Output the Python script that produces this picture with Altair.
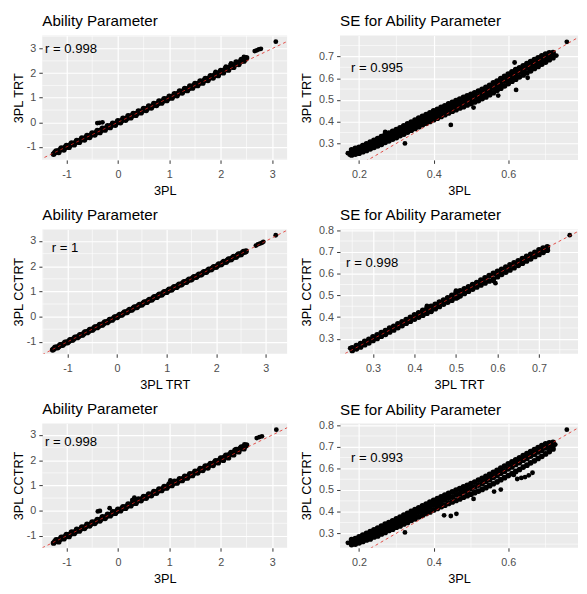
import altair as alt
import pandas as pd

FONT = "Liberation Sans"

# ---------------- texts ----------------
panel_titles = ["Ability Parameter", "SE for Ability Parameter",
                "Ability Parameter", "SE for Ability Parameter",
                "Ability Parameter", "SE for Ability Parameter"]
x_titles = ["3PL", "3PL", "3PL TRT", "3PL TRT", "3PL", "3PL"]
y_titles = ["3PL TRT", "3PL TRT", "3PL CCTRT", "3PL CCTRT", "3PL CCTRT", "3PL CCTRT"]
r_labels = ["r = 0.998", "r = 0.995", "r = 1", "r = 0.998", "r = 0.998", "r = 0.993"]
r_x = [-0.91, 0.248, -1.05, 0.298, -0.91, 0.248]
r_y = [3.0, 0.645, 2.73, 0.649, 2.73, 0.647]

# ---------------- ability panels: band points ----------------
ab_x = [-1.25, -1.2, -1.15, -1.1, -1.05, -1.0, -0.95, -0.9, -0.85, -0.8, -0.75, -0.7, -0.65, -0.6, -0.55,
        -0.5, -0.45, -0.4, -0.35, -0.3, -0.25, -0.2, -0.15, -0.1, -0.05, 0.0, 0.05, 0.1, 0.15, 0.2, 0.25,
        0.3, 0.35, 0.4, 0.45, 0.5, 0.55, 0.6, 0.65, 0.7, 0.75, 0.8, 0.85, 0.9, 0.95, 1.0, 1.05, 1.1, 1.15,
        1.2, 1.25, 1.3, 1.35, 1.4, 1.45, 1.5, 1.55, 1.6, 1.65, 1.7, 1.75, 1.8, 1.85, 1.9, 1.95, 2.0, 2.05,
        2.1, 2.15, 2.2, 2.25, 2.3, 2.35, 2.4, 2.45, 2.5]
ab_fx = [-1.225, -1.175, -1.125, -1.075, -1.025, -0.975, -0.925, -0.875, -0.825, -0.775, -0.725, -0.675,
         -0.625, -0.575, -0.525, -0.475, -0.425, -0.375, -0.325, -0.275, -0.225, -0.175, -0.125, -0.075,
         -0.025, 0.025, 0.075, 0.125, 0.175, 0.225, 0.275, 0.325, 0.375, 0.425, 0.475, 0.525, 0.575, 0.625,
         0.675, 0.725, 0.775, 0.825, 0.875, 0.925, 0.975, 1.025, 1.075, 1.125, 1.175, 1.225, 1.275, 1.325,
         1.375, 1.425, 1.475, 1.525, 1.575, 1.625, 1.675, 1.725, 1.775, 1.825, 1.875, 1.925, 1.975, 2.025,
         2.075, 2.125, 2.175, 2.225, 2.275, 2.325, 2.375, 2.425, 2.475]

# panel A: 3PL vs 3PL TRT
a_y = [-1.29, -1.17, -1.22, -1.05, -1.12, -0.95, -1.01, -0.84, -0.91, -0.74, -0.81, -0.64, -0.71, -0.54, -0.61,
       -0.44, -0.51, -0.34, -0.41, -0.24, -0.31, -0.14, -0.21, -0.04, -0.11, 0.06, -0.01, 0.16, 0.09, 0.26, 0.19,
       0.36, 0.29, 0.46, 0.39, 0.56, 0.49, 0.66, 0.59, 0.76, 0.69, 0.86, 0.79, 0.96, 0.89, 1.06, 0.99, 1.16, 1.09,
       1.27, 1.2, 1.37, 1.3, 1.47, 1.4, 1.58, 1.5, 1.68, 1.6, 1.78, 1.71, 1.89, 1.81, 1.99, 1.91, 2.1, 2.02,
       2.22, 2.13, 2.33, 2.24, 2.45, 2.36, 2.55, 2.5, 2.62]
a_fy = [-1.23, -1.18, -1.12, -1.08, -1.02, -0.98, -0.92, -0.88, -0.82, -0.78,
        -0.72, -0.68, -0.62, -0.58, -0.52, -0.48, -0.42, -0.38, -0.32, -0.28,
        -0.22, -0.18, -0.12, -0.08, -0.02, 0.03, 0.07, 0.13, 0.17, 0.23,
        0.27, 0.33, 0.37, 0.43, 0.47, 0.53, 0.57, 0.63, 0.67, 0.73,
        0.77, 0.83, 0.87, 0.93, 0.97, 1.03, 1.07, 1.13, 1.18, 1.23,
        1.28, 1.33, 1.38, 1.43, 1.49, 1.54, 1.59, 1.64, 1.7, 1.75,
        1.8, 1.86, 1.91, 1.96, 2.02, 2.07, 2.13, 2.18, 2.24, 2.29,
        2.35, 2.41, 2.46, 2.52, 2.57]
a_out_x = [-0.4, -0.36, -0.3, 1.9, 2.1, 2.2, 2.45, 2.66, 2.7, 2.74, 2.78, 3.07]
a_out_y = [-0.03, -0.02, 0.0, 2.05, 2.27, 2.4, 2.66, 2.9, 2.93, 2.97, 2.99, 3.28]

# panel C: 3PL TRT vs 3PL CCTRT
c_x = [-1.3, -1.25, -1.2, -1.15, -1.1, -1.05, -1.0, -0.95, -0.9, -0.85, -0.8, -0.75, -0.7, -0.65, -0.6, -0.55,
       -0.5, -0.45, -0.4, -0.35, -0.3, -0.25, -0.2, -0.15, -0.1, -0.05, 0.0, 0.05, 0.1, 0.15, 0.2, 0.25, 0.3,
       0.35, 0.4, 0.45, 0.5, 0.55, 0.6, 0.65, 0.7, 0.75, 0.8, 0.85, 0.9, 0.95, 1.0, 1.05, 1.1, 1.15, 1.2, 1.25,
       1.3, 1.35, 1.4, 1.45, 1.5, 1.55, 1.6, 1.65, 1.7, 1.75, 1.8, 1.85, 1.9, 1.95, 2.0, 2.05, 2.1, 2.15, 2.2,
       2.25, 2.3, 2.35, 2.4, 2.45, 2.5, 2.55, 2.6]
c_y = [-1.32, -1.22, -1.23, -1.12, -1.13, -1.02, -1.03, -0.92, -0.93, -0.82, -0.83, -0.72, -0.73, -0.62, -0.63, -0.52,
       -0.53, -0.42, -0.43, -0.32, -0.33, -0.22, -0.23, -0.12, -0.13, -0.02, -0.03, 0.08, 0.07, 0.18, 0.17, 0.28, 0.27,
       0.38, 0.37, 0.48, 0.47, 0.58, 0.57, 0.68, 0.67, 0.78, 0.77, 0.88, 0.87, 0.98, 0.97, 1.08, 1.07, 1.18, 1.17, 1.28,
       1.27, 1.38, 1.37, 1.48, 1.47, 1.58, 1.57, 1.68, 1.67, 1.78, 1.77, 1.88, 1.87, 1.98, 1.97, 2.08, 2.07, 2.18, 2.17,
       2.28, 2.27, 2.38, 2.37, 2.48, 2.47, 2.58, 2.6]
c_fx = [-1.275, -1.225, -1.175, -1.125, -1.075, -1.025, -0.975, -0.925, -0.875, -0.825,
        -0.775, -0.725, -0.675, -0.625, -0.575, -0.525, -0.475, -0.425, -0.375, -0.325,
        -0.275, -0.225, -0.175, -0.125, -0.075, -0.025, 0.025, 0.075, 0.125, 0.175,
        0.225, 0.275, 0.325, 0.375, 0.425, 0.475, 0.525, 0.575, 0.625, 0.675,
        0.725, 0.775, 0.825, 0.875, 0.925, 0.975, 1.025, 1.075, 1.125, 1.175,
        1.225, 1.275, 1.325, 1.375, 1.425, 1.475, 1.525, 1.575, 1.625, 1.675,
        1.725, 1.775, 1.825, 1.875, 1.925, 1.975, 2.025, 2.075, 2.125, 2.175,
        2.225, 2.275, 2.325, 2.375, 2.425, 2.475, 2.525, 2.575]
c_fy = [-1.28, -1.22, -1.18, -1.12, -1.08, -1.02, -0.98, -0.92, -0.88, -0.82,
        -0.78, -0.72, -0.68, -0.62, -0.58, -0.52, -0.48, -0.42, -0.38, -0.32,
        -0.28, -0.22, -0.18, -0.12, -0.08, -0.02, 0.03, 0.07, 0.13, 0.17,
        0.23, 0.27, 0.33, 0.37, 0.43, 0.47, 0.53, 0.57, 0.63, 0.67,
        0.73, 0.77, 0.83, 0.87, 0.93, 0.97, 1.03, 1.07, 1.13, 1.17,
        1.23, 1.27, 1.33, 1.37, 1.43, 1.47, 1.53, 1.57, 1.63, 1.67,
        1.73, 1.77, 1.83, 1.87, 1.93, 1.97, 2.03, 2.07, 2.13, 2.17,
        2.23, 2.27, 2.33, 2.37, 2.43, 2.47, 2.53, 2.57]
c_out_x = [2.8, 2.84, 2.88, 2.92, 2.95, 3.2]
c_out_y = [2.82, 2.87, 2.9, 2.93, 2.97, 3.23]

# panel E: 3PL vs 3PL CCTRT
e_y = [-1.28, -1.16, -1.23, -1.06, -1.11, -0.95, -1.02, -0.85, -0.9, -0.74, -0.8, -0.65, -0.7, -0.54, -0.6,
       -0.45, -0.5, -0.35, -0.4, -0.24, -0.3, -0.14, -0.2, -0.05, -0.1, 0.05, 0.0, 0.15, 0.1, 0.26, 0.2,
       0.36, 0.3, 0.46, 0.4, 0.56, 0.5, 0.66, 0.6, 0.76, 0.7, 0.86, 0.8, 0.96, 0.9, 1.06, 1.0, 1.16, 1.1,
       1.26, 1.2, 1.36, 1.3, 1.46, 1.4, 1.56, 1.5, 1.67, 1.6, 1.77, 1.7, 1.87, 1.8, 1.98, 1.9, 2.08, 2.0,
       2.19, 2.1, 2.3, 2.22, 2.42, 2.34, 2.52, 2.46, 2.6]
e_fy = [-1.22, -1.18, -1.13, -1.07, -1.03, -0.97, -0.93, -0.87, -0.83, -0.77,
        -0.73, -0.67, -0.63, -0.57, -0.53, -0.47, -0.43, -0.37, -0.33, -0.27,
        -0.23, -0.17, -0.13, -0.07, -0.03, 0.03, 0.08, 0.12, 0.18, 0.22,
        0.28, 0.32, 0.38, 0.42, 0.48, 0.52, 0.58, 0.62, 0.68, 0.72,
        0.78, 0.82, 0.88, 0.92, 0.98, 1.02, 1.08, 1.12, 1.18, 1.22,
        1.28, 1.32, 1.38, 1.43, 1.48, 1.53, 1.59, 1.64, 1.69, 1.75,
        1.8, 1.85, 1.91, 1.96, 2.01, 2.07, 2.12, 2.18, 2.23, 2.29,
        2.35, 2.4, 2.46, 2.51, 2.56]
e_out_x = [-0.39, -0.35, -0.16, 0.32, 0.28, 1.02, 2.27, 2.46, 2.7, 2.75, 2.8, 3.08]
e_out_y = [-0.03, -0.01, 0.1, 0.52, 0.42, 1.2, 2.41, 2.63, 2.88, 2.92, 2.95, 3.21]

# ---------------- SE panels: x grid and upper / middle / lower band ----------------
se_x = [0.18, 0.19, 0.2, 0.21, 0.22, 0.23, 0.24, 0.25, 0.26, 0.27, 0.28, 0.29, 0.3, 0.31, 0.32, 0.33, 0.34,
        0.35, 0.36, 0.37, 0.38, 0.39, 0.4, 0.41, 0.42, 0.43, 0.44, 0.45, 0.46, 0.47, 0.48, 0.49, 0.5, 0.51,
        0.52, 0.53, 0.54, 0.55, 0.56, 0.57, 0.58, 0.59, 0.6, 0.61, 0.62, 0.63, 0.64, 0.65, 0.66, 0.67, 0.68,
        0.69, 0.7, 0.71, 0.72]

# panel B: SE 3PL vs SE 3PL TRT
b_hi = [0.270, 0.277, 0.282, 0.290, 0.298, 0.306, 0.314, 0.322, 0.331, 0.341,
        0.347, 0.356, 0.364, 0.372, 0.381, 0.390, 0.398, 0.407, 0.416, 0.424,
        0.433, 0.441, 0.450, 0.457, 0.466, 0.473, 0.482, 0.489, 0.497, 0.504,
        0.512, 0.519, 0.526, 0.533, 0.541, 0.549, 0.558, 0.567, 0.578, 0.587,
        0.598, 0.608, 0.619, 0.629, 0.639, 0.648, 0.657, 0.667, 0.676, 0.685,
        0.694, 0.703, 0.711, 0.716, 0.718]
b_mid = [0.258, 0.264, 0.268, 0.277, 0.283, 0.291, 0.297, 0.306, 0.313, 0.323,
         0.329, 0.339, 0.345, 0.355, 0.361, 0.372, 0.379, 0.389, 0.396, 0.406,
         0.412, 0.422, 0.429, 0.438, 0.444, 0.454, 0.460, 0.470, 0.475, 0.485,
         0.490, 0.499, 0.504, 0.513, 0.519, 0.529, 0.535, 0.547, 0.555, 0.567,
         0.576, 0.588, 0.597, 0.609, 0.617, 0.629, 0.636, 0.648, 0.655, 0.667,
         0.674, 0.686, 0.693, 0.704, 0.707]
b_lo = [0.247, 0.251, 0.255, 0.262, 0.268, 0.275, 0.282, 0.289, 0.296, 0.305,
        0.312, 0.320, 0.327, 0.336, 0.343, 0.352, 0.361, 0.369, 0.377, 0.386,
        0.393, 0.401, 0.409, 0.416, 0.424, 0.432, 0.440, 0.448, 0.455, 0.463,
        0.469, 0.477, 0.483, 0.491, 0.497, 0.506, 0.514, 0.524, 0.533, 0.544,
        0.554, 0.565, 0.575, 0.586, 0.595, 0.606, 0.615, 0.625, 0.634, 0.645,
        0.654, 0.665, 0.674, 0.685, 0.694]
b_out_x = [0.17, 0.175, 0.27, 0.323, 0.446, 0.507, 0.573, 0.617, 0.621, 0.652, 0.729, 0.757]
b_out_y = [0.255, 0.248, 0.353, 0.300, 0.385, 0.465, 0.520, 0.672, 0.546, 0.602, 0.704, 0.767]

# panel F: SE 3PL vs SE 3PL CCTRT
f_hi = [0.271, 0.276, 0.284, 0.292, 0.300, 0.308, 0.316, 0.324, 0.333, 0.342,
        0.350, 0.358, 0.367, 0.375, 0.384, 0.392, 0.401, 0.409, 0.418, 0.427,
        0.435, 0.444, 0.452, 0.460, 0.469, 0.476, 0.485, 0.492, 0.500, 0.507,
        0.515, 0.522, 0.530, 0.537, 0.546, 0.554, 0.563, 0.572, 0.582, 0.591,
        0.601, 0.611, 0.621, 0.630, 0.640, 0.649, 0.659, 0.668, 0.678, 0.687,
        0.696, 0.705, 0.713, 0.718, 0.720]
f_mid = [0.259, 0.263, 0.270, 0.276, 0.285, 0.290, 0.299, 0.305, 0.315, 0.322,
         0.332, 0.338, 0.348, 0.354, 0.364, 0.371, 0.381, 0.388, 0.398, 0.405,
         0.414, 0.421, 0.431, 0.438, 0.447, 0.454, 0.463, 0.469, 0.478, 0.484,
         0.493, 0.499, 0.507, 0.514, 0.523, 0.530, 0.540, 0.548, 0.559, 0.567,
         0.578, 0.587, 0.598, 0.607, 0.618, 0.627, 0.638, 0.646, 0.657, 0.665,
         0.676, 0.684, 0.695, 0.702, 0.708]
f_lo = [0.248, 0.250, 0.256, 0.262, 0.269, 0.274, 0.283, 0.288, 0.297, 0.304,
        0.313, 0.319, 0.328, 0.334, 0.343, 0.350, 0.360, 0.367, 0.376, 0.383,
        0.392, 0.399, 0.408, 0.415, 0.423, 0.430, 0.438, 0.445, 0.452, 0.459,
        0.467, 0.474, 0.481, 0.488, 0.495, 0.503, 0.511, 0.520, 0.529, 0.538,
        0.548, 0.557, 0.567, 0.576, 0.586, 0.595, 0.606, 0.615, 0.626, 0.635,
        0.646, 0.656, 0.667, 0.678, 0.690]
f_out_x = [0.17, 0.323, 0.428, 0.446, 0.461, 0.507, 0.562, 0.58, 0.624, 0.615, 0.635, 0.645, 0.655, 0.665,
           0.726, 0.757]
f_out_y = [0.256, 0.304, 0.383, 0.38, 0.39, 0.459, 0.493, 0.502, 0.551, 0.57, 0.556, 0.56, 0.568, 0.58,
           0.71, 0.779]

# panel D: SE 3PL TRT vs SE 3PL CCTRT
d_x = [0.25, 0.26, 0.27, 0.28, 0.29, 0.3, 0.31, 0.32, 0.33, 0.34, 0.35, 0.36, 0.37, 0.38, 0.39, 0.4,
       0.41, 0.42, 0.43, 0.44, 0.45, 0.46, 0.47, 0.48, 0.49, 0.5, 0.51, 0.52, 0.53, 0.54, 0.55, 0.56,
       0.57, 0.58, 0.59, 0.6, 0.61, 0.62, 0.63, 0.64, 0.65, 0.66, 0.67, 0.68, 0.69, 0.7, 0.71, 0.72]
d_hi = [0.259, 0.269, 0.278, 0.289, 0.298, 0.309, 0.318, 0.329, 0.338, 0.349,
        0.358, 0.369, 0.378, 0.389, 0.399, 0.410, 0.420, 0.431, 0.441, 0.450,
        0.459, 0.469, 0.478, 0.489, 0.500, 0.512, 0.521, 0.530, 0.539, 0.549,
        0.559, 0.570, 0.580, 0.591, 0.601, 0.611, 0.620, 0.630, 0.640, 0.650,
        0.659, 0.669, 0.679, 0.689, 0.698, 0.709, 0.717, 0.723]
d_lo = [0.247, 0.254, 0.263, 0.273, 0.282, 0.293, 0.302, 0.312, 0.321, 0.332,
        0.341, 0.352, 0.361, 0.372, 0.381, 0.391, 0.400, 0.409, 0.418, 0.428,
        0.439, 0.449, 0.460, 0.469, 0.478, 0.488, 0.498, 0.509, 0.519, 0.529,
        0.539, 0.548, 0.557, 0.566, 0.575, 0.586, 0.597, 0.607, 0.617, 0.627,
        0.638, 0.648, 0.658, 0.668, 0.679, 0.688, 0.698, 0.708]
d_out_x = [0.245, 0.43, 0.44, 0.5, 0.505, 0.59, 0.595, 0.774]
d_out_y = [0.257, 0.452, 0.424, 0.522, 0.49, 0.566, 0.556, 0.777]

# ---------------- axis domains and breaks ----------------
domains_x = [[-1.47, 3.29], [0.149, 0.787], [-1.51, 3.43], [0.2205, 0.794], [-1.47, 3.29], [0.149, 0.787]]
domains_y = [[-1.53, 3.53], [0.224, 0.796], [-1.48, 3.46], [0.231, 0.803], [-1.47, 3.46], [0.233, 0.808]]
major_x = [[-1, 0, 1, 2, 3], [0.2, 0.4, 0.6], [-1, 0, 1, 2, 3], [0.3, 0.4, 0.5, 0.6, 0.7],
           [-1, 0, 1, 2, 3], [0.2, 0.4, 0.6]]
major_y = [[-1, 0, 1, 2, 3], [0.3, 0.4, 0.5, 0.6, 0.7], [-1, 0, 1, 2, 3], [0.3, 0.4, 0.5, 0.6, 0.7, 0.8],
           [-1, 0, 1, 2, 3], [0.3, 0.4, 0.5, 0.6, 0.7, 0.8]]
minor_x = [[-0.5, 0.5, 1.5, 2.5], [0.3, 0.5, 0.7], [-1.5, -0.5, 0.5, 1.5, 2.5],
           [0.25, 0.35, 0.45, 0.55, 0.65, 0.75], [-0.5, 0.5, 1.5, 2.5], [0.3, 0.5, 0.7]]
minor_y = [[-1.5, -0.5, 0.5, 1.5, 2.5, 3.5], [0.25, 0.35, 0.45, 0.55, 0.65, 0.75],
           [-0.5, 0.5, 1.5, 2.5], [0.25, 0.35, 0.45, 0.55, 0.65, 0.75],
           [-0.5, 0.5, 1.5, 2.5], [0.25, 0.35, 0.45, 0.55, 0.65, 0.75]]

# ---------------- assemble point tables (dense band + separate points) ----------------
band_points = [
    (ab_x + ab_fx, a_y + a_fy),
    (se_x * 3, b_hi + b_mid + b_lo),
    (c_x + c_fx, c_y + c_fy),
    (d_x * 2, d_hi + d_lo),
    (ab_x + ab_fx, e_y + e_fy),
    (se_x * 3, f_hi + f_mid + f_lo),
]
single_points = [
    (a_out_x, a_out_y), (b_out_x, b_out_y), (c_out_x, c_out_y),
    (d_out_x, d_out_y), (e_out_x, e_out_y), (f_out_x, f_out_y),
]
for px, py in band_points + single_points:
    assert len(px) == len(py), (len(px), len(py))

panel_w = [250, 243, 250, 243, 250, 243]
y_title_x = [-20, -30.5, -20, -30.5, -20, -30.5]
title_offset = [-6, -6, -6, -11.3, -6, -11.3]
PANEL_H = 127


def panel(i):
    xsc = alt.Scale(domain=domains_x[i], nice=False, zero=False)
    ysc = alt.Scale(domain=domains_y[i], nice=False, zero=False)
    xax = alt.Axis(values=major_x[i], title=x_titles[i], titleY=35.5, titleBaseline="alphabetic",
                   labelExpr="toString(datum.value)", labelFlush=False, labelOverlap=False)
    yax = alt.Axis(values=major_y[i], title=y_titles[i], titleX=y_title_x[i], titleBaseline="alphabetic",
                   labelExpr="toString(datum.value)", labelFlush=False, labelOverlap=False)

    def X(f):
        return alt.X(f, type="quantitative", scale=xsc, axis=xax)

    def Y(f):
        return alt.Y(f, type="quantitative", scale=ysc, axis=yax)

    vminor = alt.Chart(pd.DataFrame({"v": minor_x[i]})).mark_rule(
        color="white", strokeWidth=0.6).encode(x=X("v"))
    hminor = alt.Chart(pd.DataFrame({"v": minor_y[i]})).mark_rule(
        color="white", strokeWidth=0.6).encode(y=Y("v"))
    bx, by = band_points[i]
    band = alt.Chart(pd.DataFrame({"x": bx, "y": by})).mark_circle(
        size=34, color="black", opacity=1).encode(x=X("x"), y=Y("y"))
    sx, sy = single_points[i]
    single = alt.Chart(pd.DataFrame({"x": sx, "y": sy})).mark_circle(
        size=24, color="black", opacity=1).encode(x=X("x"), y=Y("y"))
    lo = min(domains_x[i][0], domains_y[i][0])
    hi = max(domains_x[i][1], domains_y[i][1])
    ab = alt.Chart(pd.DataFrame({"x": [lo, hi], "y": [lo, hi]})).mark_line(
        color="#E0241C", strokeWidth=0.8, strokeDash=[3, 3], clip=True).encode(x=X("x"), y=Y("y"))
    txt = alt.Chart(pd.DataFrame({"x": [r_x[i]], "y": [r_y[i]], "t": [r_labels[i]]})).mark_text(
        font=FONT, fontSize=13.4, color="black", align="center", baseline="middle").encode(
        x=X("x"), y=Y("y"), text="t:N")
    return alt.layer(vminor, hminor, band, single, ab, txt).properties(
        width=panel_w[i], height=PANEL_H,
        title=alt.TitleParams(panel_titles[i], anchor="start", frame="group", offset=title_offset[i],
                              baseline="alphabetic", fontSize=15.5, font=FONT,
                              fontWeight="normal", color="black"))


chart = alt.concat(*[panel(i) for i in range(6)], columns=2,
                   spacing={"row": 71, "column": 54}, bounds="flush").properties(
    padding={"left": 5, "top": 0, "right": 0, "bottom": 0}
).configure_view(fill="#EBEBEB", strokeWidth=0).configure_axis(
    domain=False, grid=True, gridColor="white", gridWidth=1.2,
    tickColor="#333333", tickSize=3.5, tickWidth=1,
    labelColor="#4D4D4D", labelFontSize=11, labelFont=FONT,
    titleFont=FONT, titleFontSize=13, titleFontWeight="normal", titleColor="black"
).configure_axisX(labelPadding=5.5).configure_axisY(labelPadding=3.2)

chart.save("out.html", embed_options={"renderer": "svg", "actions": False})
